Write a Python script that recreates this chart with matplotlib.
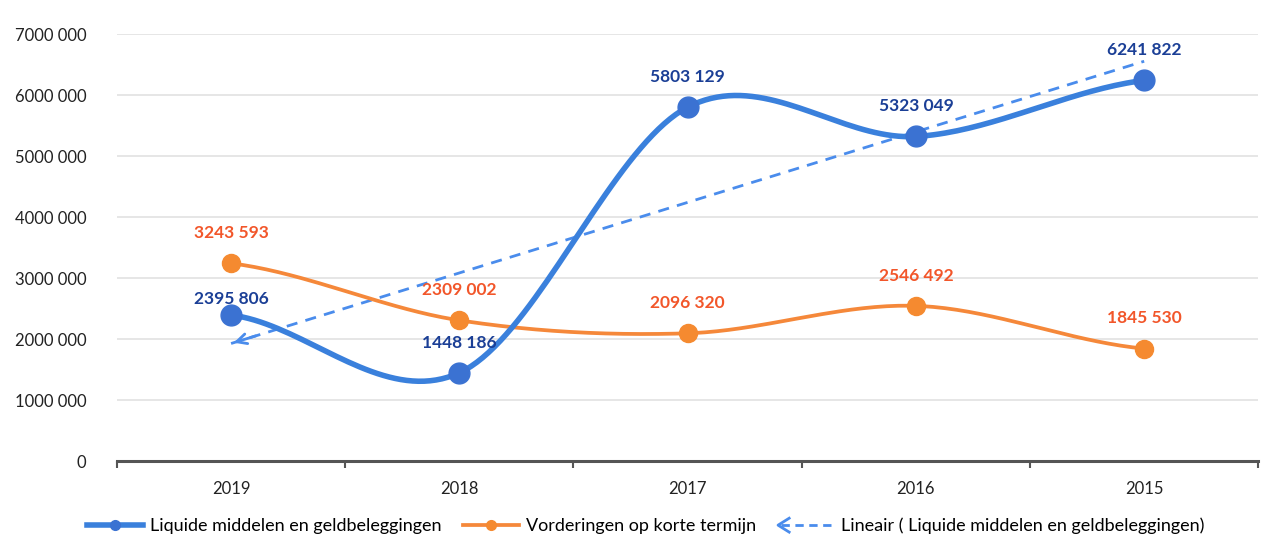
import numpy as np
import matplotlib
matplotlib.use('Agg')
import matplotlib.pyplot as plt
import matplotlib.lines as mlines
from matplotlib.legend_handler import HandlerBase

plt.rcParams['font.family'] = ['Lato', 'DejaVu Sans']

years = ['2019', '2018', '2017', '2016', '2015']
liquide = [2395806, 1448186, 5803129, 5323049, 6241822]
vorderingen = [3243593, 2309002, 2096320, 2546492, 1845530]
y_ticks = [0, 1000000, 2000000, 3000000, 4000000, 5000000, 6000000, 7000000]

BLUE = '#3a80dc'
BLUE_MK = '#3b72d2'
BLUE_TXT = '#1b3f96'
ORANGE = '#f5883a'
ORANGE_MK = '#f58a30'
ORANGE_TXT = '#f2562a'
TREND = '#4a8cec'


def smooth(x, y, n=40):
    # excel-style smoothed line (bezier segments through the points)
    x = np.asarray(x, float)
    y = np.asarray(y, float)
    px = np.concatenate([[2 * x[0] - x[1]], x, [2 * x[-1] - x[-2]]])
    py = np.concatenate([[y[0]], y, [y[-1]]])
    xs, ys = [], []
    t = np.linspace(0, 1, n)
    for i in range(1, len(px) - 2):
        p0, p1, p2, p3 = [np.array([px[j], py[j]]) for j in (i - 1, i, i + 1, i + 2)]
        c1 = p1 + (p2 - p0) / 6
        c2 = p2 - (p3 - p1) / 6
        b = ((1 - t) ** 3)[:, None] * p1 + (3 * (1 - t) ** 2 * t)[:, None] * c1 \
            + (3 * (1 - t) * t ** 2)[:, None] * c2 + (t ** 3)[:, None] * p2
        xs.extend(b[:, 0])
        ys.extend(b[:, 1])
    return np.array(xs), np.array(ys)


def num_fmt(v):
    v = int(round(v))
    if v == 0:
        return '0'
    return f"{v // 1000} {v % 1000:03d}"


class TrendHandler(HandlerBase):
    def create_artists(self, legend, orig_handle, xdescent, ydescent,
                       width, height, fontsize, trans):
        y = height / 2 - ydescent
        x0 = -xdescent
        line = mlines.Line2D([x0 + 2, x0 + width], [y, y], color=TREND,
                             lw=2, ls=(0, (3, 2)), transform=trans)
        head = mlines.Line2D([x0 + 8, x0, x0 + 8], [y + 5, y, y - 5],
                             color=TREND, lw=2, transform=trans)
        return [line, head]


fig = plt.figure(figsize=(12.71, 5.51), dpi=100)
ax = fig.add_axes([0.092, 0.163, 0.898, 0.775])

x = np.arange(len(years))

for t in y_ticks[1:]:
    ax.axhline(t, color='#e2e2e2', lw=1.2, zorder=0)

# trend line for liquide middelen
k, b = np.polyfit(x, liquide, 1)
tx = np.array([x[0], x[-1]])
ax.plot(tx, k * tx + b, color=TREND, lw=2, ls=(0, (4, 3)), zorder=2)
ax.annotate('', xy=(x[0], k * x[0] + b), xytext=(x[0] + 0.12, k * (x[0] + 0.12) + b),
            arrowprops=dict(arrowstyle='->', color=TREND, lw=2, mutation_scale=18), zorder=2)

sx, sy = smooth(x, vorderingen)
ax.plot(sx, sy, color=ORANGE, lw=2.7, zorder=3, solid_capstyle='round')
ax.plot(x, vorderingen, 'o', color=ORANGE_MK, ms=13, zorder=4)

sx, sy = smooth(x, liquide)
ax.plot(sx, sy, color=BLUE, lw=4, zorder=5, solid_capstyle='round')
ax.plot(x, liquide, 'o', color=BLUE_MK, ms=15, zorder=6)

for i, v in enumerate(vorderingen):
    ax.annotate(num_fmt(v), (x[i], v), xytext=(0, 16), textcoords='offset points',
                ha='center', va='bottom', color=ORANGE_TXT, fontsize=12.5,
                fontweight='bold', zorder=7)
for i, v in enumerate(liquide):
    dy = 6 if i == 0 else 16
    ax.annotate(num_fmt(v), (x[i], v), xytext=(0, dy), textcoords='offset points',
                ha='center', va='bottom', color=BLUE_TXT, fontsize=12.5,
                fontweight='bold', zorder=7)

ax.set_xlim(-0.5, len(years) - 0.5)
ax.set_ylim(0, 7000000)
ax.set_yticks(y_ticks)
ax.set_yticklabels([num_fmt(t) for t in y_ticks], fontsize=12, color='#222222')
ax.set_xticks(x)
ax.set_xticklabels(years, fontsize=12, color='#222222')
ax.set_xticks(np.arange(len(years) + 1) - 0.5, minor=True)
ax.tick_params(axis='x', which='major', length=0, pad=14)
ax.tick_params(axis='x', which='minor', length=5, width=1.5, color='#555555')
ax.tick_params(axis='y', length=0, pad=22)

for s in ['top', 'right', 'left']:
    ax.spines[s].set_visible(False)
ax.spines['bottom'].set_color('#555555')
ax.spines['bottom'].set_linewidth(2.2)

h_blue = (mlines.Line2D([], [], color=BLUE, lw=4),
          mlines.Line2D([], [], color=BLUE_MK, marker='o', ms=7, ls='None'))
h_orange = (mlines.Line2D([], [], color=ORANGE, lw=2.7),
            mlines.Line2D([], [], color=ORANGE_MK, marker='o', ms=7, ls='None'))
h_trend = mlines.Line2D([], [], color=TREND)

fig.legend([h_blue, h_orange, h_trend],
           ['Liquide middelen en geldbeleggingen', 'Vorderingen op korte termijn',
            'Lineair ( Liquide middelen en geldbeleggingen)'],
           handler_map={h_trend: TrendHandler()},
           loc='center', bbox_to_anchor=(0.508, 0.045), ncol=3, frameon=False,
           fontsize=13, handlelength=3.1, columnspacing=1.2, handletextpad=0.4)

fig.savefig('out.png', dpi=100, facecolor='white')
